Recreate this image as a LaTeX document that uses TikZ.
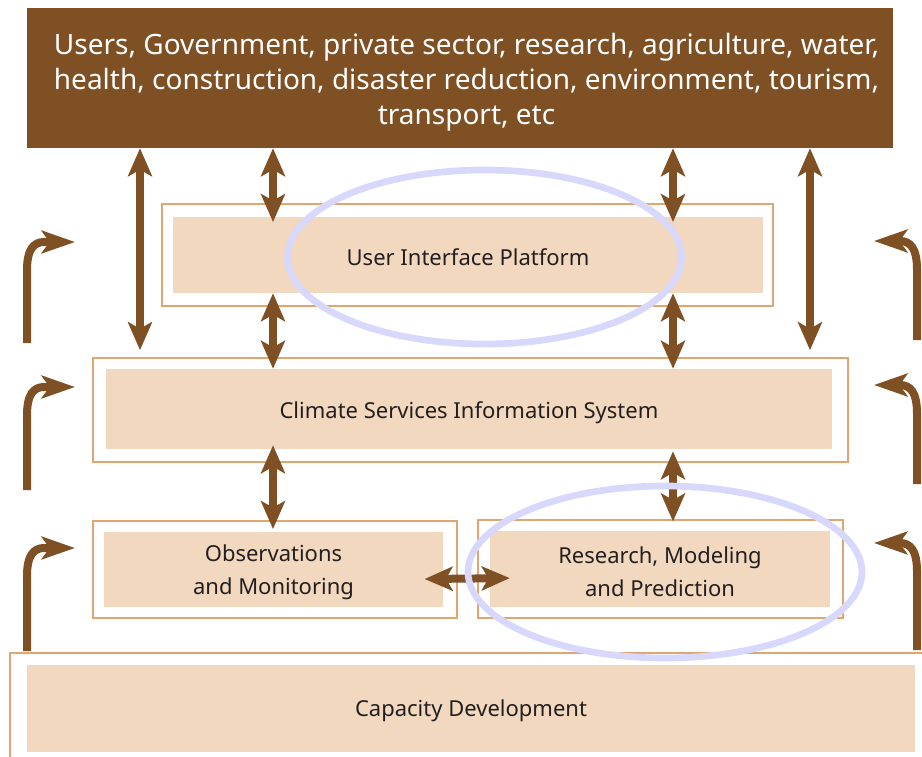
\documentclass[tikz,border=0pt]{standalone}
\usepackage{fontspec}
\setmainfont{Noto Sans}
\usetikzlibrary{arrows.meta,calc}

\definecolor{wmoBrown}{HTML}{7F5024}
\definecolor{boxFill}{HTML}{F2D8BE}
\definecolor{boxLine}{HTML}{E0A670}
\definecolor{ringBlue}{HTML}{D8D8FC}
\definecolor{textDark}{HTML}{231F20}

\tikzset{
  outerbox/.style={draw=boxLine, line width=1.8pt, fill=white, inner sep=0pt},
  innerbox/.style={fill=boxFill, draw=none, inner sep=0pt},
  boxtext/.style={text=textDark, align=center, inner sep=0pt,
    font=\fontsize{16.5}{24.75}\selectfont},
  headtip/.tip={Stealth[length=21pt,width=18pt,inset=5pt]},
  dbl/.style={draw=wmoBrown, line width=6pt, {headtip}-{headtip}},
  curv/.style={draw=wmoBrown, line width=6pt,
    -{Stealth[length=25pt,width=17pt,inset=6pt]}},
  ring/.style={draw=ringBlue, line width=5pt},
}

\begin{document}
\begin{tikzpicture}[x=0.75pt,y=-0.75pt]
  \clip (0,0) rectangle (922,757);
  \fill[white] (0,0) rectangle (922,757);

  % user communities
  \node[fill=wmoBrown, inner sep=0pt, minimum width={866*0.75pt},
        minimum height={140*0.75pt}] (top) at (460,78) {};
  \node[text=white, align=center, font=\fontsize{21}{26.25}\selectfont]
        (toptext) at (466.5,82.5) {Users, Government, private sector, research, agriculture, water,\\
        health, construction, disaster reduction, environment, tourism,\\
        transport, etc};

  % user interface platform
  \node[outerbox, minimum width={611*0.75pt}, minimum height={102*0.75pt}] (uipO) at (467.5,255) {};
  \node[innerbox, minimum width={590*0.75pt}, minimum height={76*0.75pt}] (uipI) at (468,255) {};
  \node[boxtext] (uipT) at ([yshift=-2pt]uipI.center) {User Interface Platform};

  % climate services information system
  \node[outerbox, minimum width={755*0.75pt}, minimum height={104*0.75pt}] (csisO) at (470.5,410) {};
  \node[innerbox, minimum width={726*0.75pt}, minimum height={80*0.75pt}] (csisI) at (469,409) {};
  \node[boxtext] (csisT) at ([yshift=-2.5pt]csisI.center) {Climate Services Information System};

  % observations and monitoring
  \node[outerbox, minimum width={364*0.75pt}, minimum height={97*0.75pt}] (obsO) at (275,569.5) {};
  \node[innerbox, minimum width={339*0.75pt}, minimum height={75*0.75pt}] (obsI) at (273.5,569.5) {};
  \node[boxtext] (obsT) at ([yshift=-2pt]obsI.center) {Observations\\and Monitoring};

  % research, modeling and prediction
  \node[outerbox, minimum width={365*0.75pt}, minimum height={98*0.75pt}] (rmpO) at (660.5,569) {};
  \node[innerbox, minimum width={340*0.75pt}, minimum height={76*0.75pt}] (rmpI) at (660,569) {};
  \node[boxtext] (rmpT) at ([yshift=-2pt]rmpI.center) {Research, Modeling\\and Prediction};

  % capacity development
  \node[outerbox, minimum width={930*0.75pt}, minimum height={120*0.75pt}] (capO) at (475,713) {};
  \node[innerbox, minimum width={888*0.75pt}, minimum height={87*0.75pt}] (capI) at (471,708.5) {};
  \node[boxtext] (capT) at ([yshift=-1.5pt]capI.center) {Capacity Development};

  % columns of the vertical links
  \coordinate (cA) at (140,0);
  \coordinate (cB) at (273,0);
  \coordinate (cC) at (673,0);
  \coordinate (cD) at (810,0);

  % two-way links
  \draw[dbl, shorten >=5pt] (top.south -| cA) -- (csisO.north -| cA);
  \draw[dbl, shorten >=5pt] (top.south -| cD) -- (csisO.north -| cD);
  \draw[dbl, shorten >=-4pt] (top.south -| cB) -- (uipI.north -| cB);
  \draw[dbl, shorten >=-4pt] (top.south -| cC) -- (uipI.north -| cC);
  \draw[dbl] (uipI.south -| cB) -- (csisI.north -| cB);
  \draw[dbl] (uipI.south -| cC) -- (csisI.north -| cC);
  \draw[dbl, shorten <=-3pt, shorten >=2pt] (csisI.south -| cB) -- (obsI.north -| cB);
  \draw[dbl, shorten <=1.5pt, shorten >=-2pt] (csisI.south -| cC) -- (rmpO.north -| cC);
  \draw[dbl, shorten <=-14pt, shorten >=-15pt]
    ([yshift=-7pt]obsI.east) -- ([yshift=-7pt]rmpI.west);

  % capacity development feeding each level
  \coordinate (l1s) at (27,343);  \coordinate (l1e) at (75,242);
  \coordinate (l2s) at (27,490);  \coordinate (l2e) at (75,387);
  \coordinate (l3s) at (27,651);  \coordinate (l3e) at (75,548);
  \coordinate (r1s) at (917,340); \coordinate (r1e) at (874,241);
  \coordinate (r2s) at (917,484); \coordinate (r2e) at (874,385);
  \coordinate (r3s) at (917,650); \coordinate (r3e) at (874,543);
  \foreach \s/\e in {l1s/l1e, l2s/l2e, l3s/l3e} {
    \draw[curv] (\s) -- ($(\s |- \e)+(0,28)$)
      .. controls ($(\s |- \e)+(0,7)$) and ($(\s |- \e)+(7,0)$) ..
      ($(\s |- \e)+(17,0)$) -- (\e);
  }
  \foreach \s/\e in {r1s/r1e, r2s/r2e, r3s/r3e} {
    \draw[curv] (\s) -- ($(\s |- \e)+(0,28)$)
      .. controls ($(\s |- \e)+(0,7)$) and ($(\s |- \e)+(-7,0)$) ..
      ($(\s |- \e)+(-17,0)$) -- (\e);
  }

  % highlight rings
  \draw[ring] (484.5,257) ellipse [x radius=197, y radius=87];
  \draw[ring] (665,572) ellipse [x radius=197, y radius=86];
\end{tikzpicture}
\end{document}
